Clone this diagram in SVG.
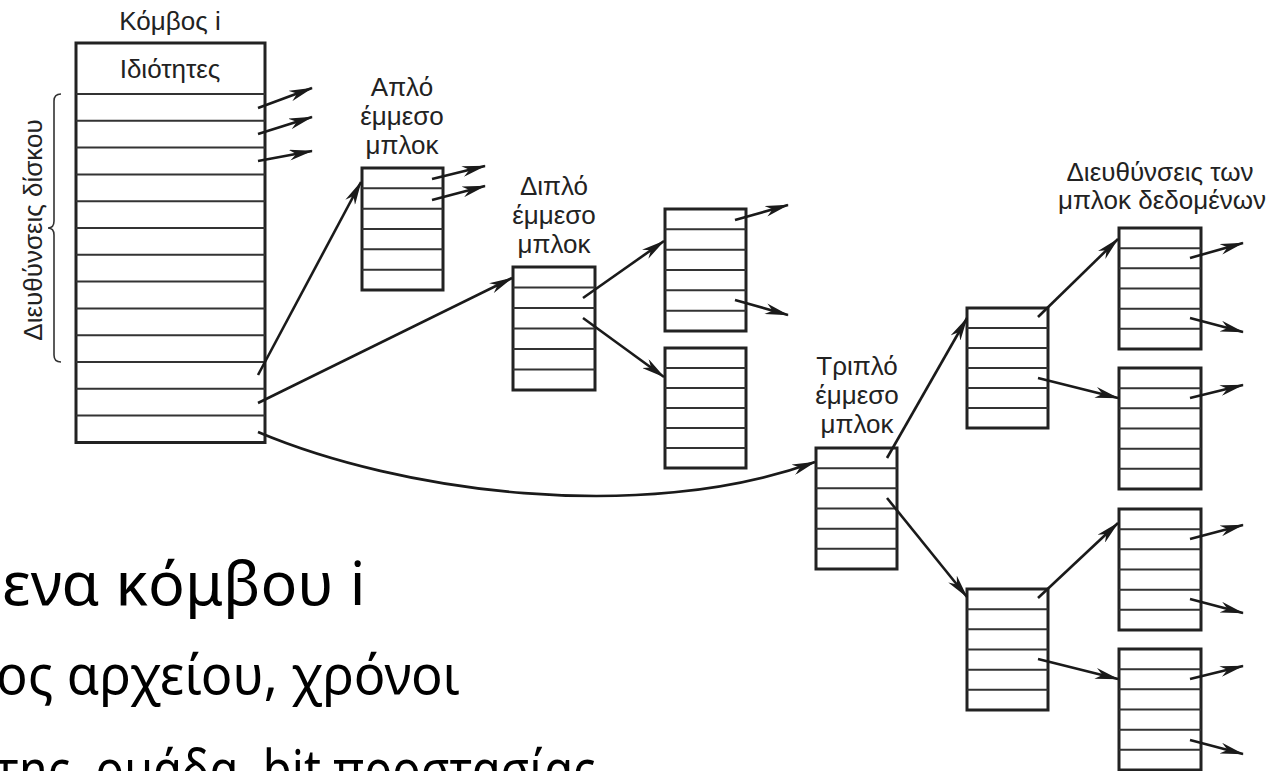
<svg xmlns="http://www.w3.org/2000/svg" width="1266" height="771" viewBox="0 0 1266 771">
<style>
.blk{fill:#fff;stroke:#222;stroke-width:3}
.row{stroke:#333;stroke-width:2;fill:none}
.lbl{font-family:"Liberation Sans",Arial,sans-serif;font-size:26px;fill:#222;text-anchor:middle}
.conn{stroke:#1a1a1a;stroke-width:2.6;fill:none;marker-end:url(#ah)}
.big{font-family:"Noto Sans","Open Sans",sans-serif;fill:#000}
</style>
<defs>
<marker id="ah" viewBox="0 0 24 11" refX="23" refY="5.5" markerWidth="24" markerHeight="11" markerUnits="userSpaceOnUse" orient="auto">
<path d="M0,0 L24,5.5 L0,11 L7,5.5 Z" fill="#1a1a1a"/>
</marker>
</defs>
<rect width="1266" height="771" fill="#fff"/>

<g id="slide-text">
<text class="big" x="2" y="605" font-size="61">ενα κόμβου i</text>
<text class="big" x="-4" y="694" font-size="55" textLength="464" lengthAdjust="spacingAndGlyphs">ος αρχείου, χρόνοι</text>
<text class="big" x="-4" y="789" font-size="55" textLength="600" lengthAdjust="spacingAndGlyphs">της, ομάδα, bit προστασίας</text>
</g>

<g id="inode">
<text class="lbl" x="170" y="30">Κόμβος i</text>
<rect class="blk" x="76" y="43" width="189" height="399.5"/>
<text class="lbl" x="170" y="78">Ιδιότητες</text>
<path class="row" d="M76,94H265M76,120.8H265M76,147.6H265M76,174.4H265M76,201.2H265M76,228H265M76,254.8H265M76,281.6H265M76,308.4H265M76,335.2H265M76,362H265M76,388.8H265M76,415.6H265"/>
<path d="M61,94 Q54,94 54,101 L54,221 Q54,228 48,228 Q54,228 54,235 L54,355 Q54,362 61,362" fill="none" stroke="#333" stroke-width="1.6"/>
<text class="lbl" transform="translate(42,230) rotate(-90)" x="0" y="0">Διευθύνσεις δίσκου</text>
</g>

<g id="single">
<text class="lbl" x="402" y="96">Απλό</text>
<text class="lbl" x="402" y="125">έμμεσο</text>
<text class="lbl" x="402" y="154">μπλοκ</text>
<rect class="blk" x="362" y="168" width="81" height="122"/>
<path class="row" d="M362,188.3H443M362,208.7H443M362,229H443M362,249.3H443M362,269.7H443"/>
</g>

<g id="double">
<text class="lbl" x="554" y="195">Διπλό</text>
<text class="lbl" x="554" y="224">έμμεσο</text>
<text class="lbl" x="554" y="253">μπλοκ</text>
<rect class="blk" x="513" y="267" width="82" height="123"/>
<path class="row" d="M513,287.5H595M513,308H595M513,328.5H595M513,349H595M513,369.5H595"/>
</g>

<g id="double-a">
<rect class="blk" x="665" y="209" width="81" height="122"/>
<path class="row" d="M665,229.3H746M665,249.7H746M665,270H746M665,290.3H746M665,310.7H746"/>
</g>

<g id="double-b">
<rect class="blk" x="665" y="348" width="81" height="120"/>
<path class="row" d="M665,368H746M665,388H746M665,408H746M665,428H746M665,448H746"/>
</g>

<g id="triple">
<text class="lbl" x="857" y="375">Τριπλό</text>
<text class="lbl" x="857" y="404">έμμεσο</text>
<text class="lbl" x="857" y="433">μπλοκ</text>
<rect class="blk" x="816" y="448" width="81" height="121"/>
<path class="row" d="M816,468.2H897M816,488.3H897M816,508.5H897M816,528.7H897M816,548.8H897"/>
</g>

<g id="triple-a">
<rect class="blk" x="967" y="308" width="81" height="120"/>
<path class="row" d="M967,328H1048M967,348H1048M967,368H1048M967,388H1048M967,408H1048"/>
</g>

<g id="triple-b">
<rect class="blk" x="967" y="589" width="81" height="121"/>
<path class="row" d="M967,609.2H1048M967,629.3H1048M967,649.5H1048M967,669.7H1048M967,689.8H1048"/>
</g>

<g id="data-label">
<text class="lbl" x="1160" y="181">Διευθύνσεις των</text>
<text class="lbl" x="1162" y="209">μπλοκ δεδομένων</text>
</g>

<g id="data-1">
<rect class="blk" x="1119" y="228" width="82" height="121"/>
<path class="row" d="M1119,248.2H1201M1119,268.3H1201M1119,288.5H1201M1119,308.7H1201M1119,328.8H1201"/>
</g>
<g id="data-2">
<rect class="blk" x="1119" y="368" width="82" height="121"/>
<path class="row" d="M1119,388.2H1201M1119,408.3H1201M1119,428.5H1201M1119,448.7H1201M1119,468.8H1201"/>
</g>
<g id="data-3">
<rect class="blk" x="1119" y="509" width="82" height="121"/>
<path class="row" d="M1119,529.2H1201M1119,549.3H1201M1119,569.5H1201M1119,589.7H1201M1119,609.8H1201"/>
</g>
<g id="data-4">
<rect class="blk" x="1119" y="649" width="82" height="121"/>
<path class="row" d="M1119,669.2H1201M1119,689.3H1201M1119,709.5H1201M1119,729.7H1201M1119,749.8H1201"/>
</g>

<g id="connectors">
<path class="conn" d="M258,108L312,88"/>
<path class="conn" d="M258,134L312,117"/>
<path class="conn" d="M258,161L312,151"/>
<path class="conn" d="M258,375L361,182"/>
<path class="conn" d="M258,403L512,278"/>
<path class="conn" d="M258,432C400,492 640,525 815,462"/>
<path class="conn" d="M432,179L485,166"/>
<path class="conn" d="M432,200L485,186"/>
<path class="conn" d="M583,298L664,241"/>
<path class="conn" d="M583,318L664,377"/>
<path class="conn" d="M735,220L788,205"/>
<path class="conn" d="M735,300L788,315"/>
<path class="conn" d="M887,458L967,318"/>
<path class="conn" d="M887,498L967,597"/>
<path class="conn" d="M1038,317L1118,239"/>
<path class="conn" d="M1038,378L1118,398"/>
<path class="conn" d="M1038,598L1118,523"/>
<path class="conn" d="M1038,659L1118,679"/>
<path class="conn" d="M1190,258L1243,243"/>
<path class="conn" d="M1190,318L1243,332"/>
<path class="conn" d="M1190,398L1243,385"/>
<path class="conn" d="M1190,539L1243,525"/>
<path class="conn" d="M1190,599L1243,613"/>
<path class="conn" d="M1190,679L1243,666"/>
<path class="conn" d="M1190,740L1243,754"/>
</g>
</svg>
